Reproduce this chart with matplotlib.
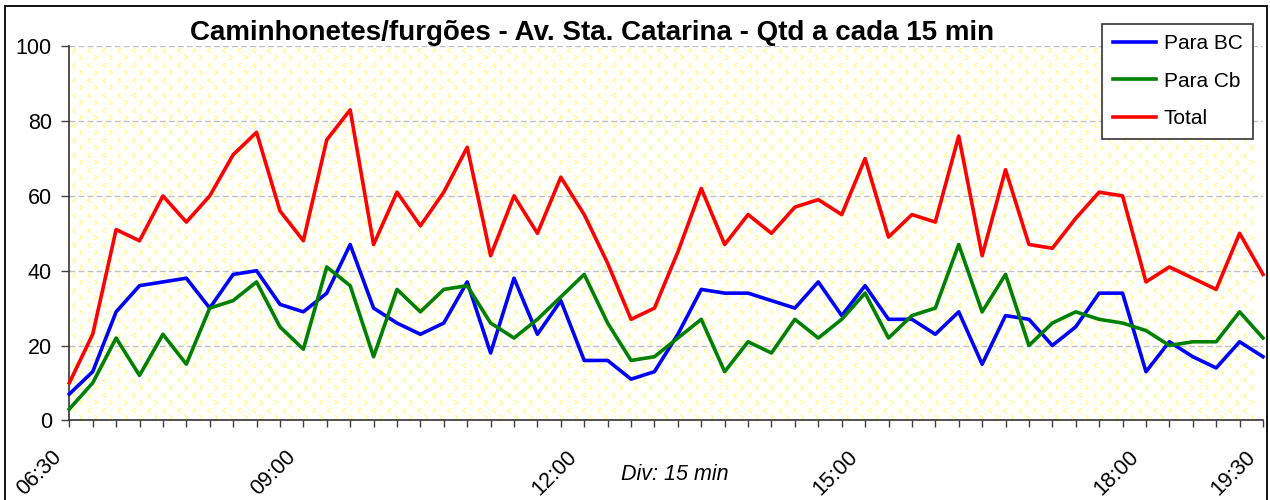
import numpy as np
import matplotlib
matplotlib.use("Agg")
import matplotlib.pyplot as plt
from matplotlib.patches import Rectangle
from matplotlib.transforms import ScaledTranslation

plt.rcParams['font.family'] = ['Liberation Sans', 'DejaVu Sans']

# counts every 15 min, 06:30 .. 19:30
para_bc = [7, 13, 29, 36, 37, 38, 30, 39, 40, 31, 29, 34, 47, 30, 26, 23, 26, 37, 18, 38,
           23, 32, 16, 16, 11, 13, 23, 35, 34, 34, 32, 30, 37, 28, 36, 27, 27, 23, 29, 15,
           28, 27, 20, 25, 34, 34, 13, 21, 17, 14, 21, 17]
para_cb = [3, 10, 22, 12, 23, 15, 30, 32, 37, 25, 19, 41, 36, 17, 35, 29, 35, 36, 26, 22,
           27, 33, 39, 26, 16, 17, 22, 27, 13, 21, 18, 27, 22, 27, 34, 22, 28, 30, 47, 29,
           39, 20, 26, 29, 27, 26, 24, 20, 21, 21, 29, 22]
total = [10, 23, 51, 48, 60, 53, 60, 71, 77, 56, 48, 75, 83, 47, 61, 52, 61, 73, 44, 60,
         50, 65, 55, 42, 27, 30, 45, 62, 47, 55, 50, 57, 59, 55, 70, 49, 55, 53, 76, 44,
         67, 47, 46, 54, 61, 60, 37, 41, 38, 35, 50, 39]

label_pos = [0, 10, 22, 34, 46, 51]
label_txt = ['06:30', '09:00', '12:00', '15:00', '18:00', '19:30']

W, H = 1270, 500
fig = plt.figure(figsize=(W / 100, H / 100), dpi=100)
x0, x1, y0, y1 = 69.3, 1263, 46.3, 420.3
ax = fig.add_axes([x0 / W, 1 - y1 / H, (x1 - x0) / W, (y1 - y0) / H])

# pale yellow chevron fill like the excel pattern
ph, pw = int(y1 - y0), int(x1 - x0)
bg = np.ones((ph, pw, 3))
yel = np.array([1.0, 1.0, 0.55])
lt = [(0, 2), (1, 1), (2, 0), (3, 1), (4, 2)]
gt = [(0, 0), (1, 1), (2, 2), (3, 1), (4, 0)]
for r in range(2, ph - 6, 15):
    for c in range(3, pw - 12, 15):
        for dy, dx in lt:
            bg[r + dy, c + dx:c + dx + 2] = yel
        for dy, dx in gt:
            bg[r + 7 + dy, c + 7 + dx:c + 7 + dx + 2] = yel
ax.imshow(bg, extent=[0, 1, 0, 1], transform=ax.transAxes, aspect='auto',
          interpolation='nearest', zorder=0)

x = np.arange(len(total))
ax.plot(x, para_bc, color='#0000FF', lw=2.6, label='Para BC', zorder=3, clip_on=False)
ax.plot(x, para_cb, color='#008000', lw=2.6, label='Para Cb', zorder=3, clip_on=False)
ax.plot(x, total, color='#FF0000', lw=2.6, label='Total', zorder=3, clip_on=False)

ax.set_xlim(0, len(total) - 1)
ax.set_ylim(0, 100)
ax.set_yticks(range(0, 101, 20))
ax.set_axisbelow(True)
ax.yaxis.grid(True, linestyle=(0, (4.3, 2.2)), color='#c0c0c0', lw=1)

for s in ['top', 'right']:
    ax.spines[s].set_visible(False)
for s in ['left', 'bottom']:
    ax.spines[s].set_color('#333333')
    ax.spines[s].set_linewidth(1.2)

labels = [''] * len(total)
for p, t in zip(label_pos, label_txt):
    labels[p] = t
ax.set_xticks(x)
ax.set_xticklabels(labels, rotation=45, ha='right', rotation_mode='anchor')
ax.tick_params(axis='x', direction='out', length=5, width=1, color='#404040',
               labelsize=15.5, pad=14)
ax.tick_params(axis='y', direction='out', length=5.5, width=1, color='#404040',
               labelsize=15.5, pad=7)
shift = ScaledTranslation(-18 / 100, 0, fig.dpi_scale_trans)
for lab in ax.get_xticklabels():
    lab.set_transform(lab.get_transform() + shift)

fig.text(592 / W, 1 - 40 / H, 'Caminhonetes/furgões - Av. Sta. Catarina - Qtd a cada 15 min',
         fontsize=20, fontweight='bold', ha='center', va='baseline')
fig.text(675 / W, 1 - 480 / H, 'Div: 15 min', fontsize=15.5, style='italic',
         ha='center', va='baseline')

leg = ax.legend(loc='upper right', bbox_to_anchor=(1253 / W, 1 - 24 / H),
                bbox_transform=fig.transFigure, borderaxespad=0, fontsize=15,
                fancybox=False, framealpha=1, edgecolor='#333333', borderpad=0.5,
                labelspacing=0.88, handlelength=2.1, handletextpad=0.35)
leg.get_frame().set_linewidth(1.2)
leg.set_zorder(5)

fig.add_artist(Rectangle((5 / W, -0.02), 1262 / W, 1 - 6 / H + 0.02,
                         transform=fig.transFigure, fill=False, ec='black', lw=1.3))

fig.savefig('out.png', dpi=100)
